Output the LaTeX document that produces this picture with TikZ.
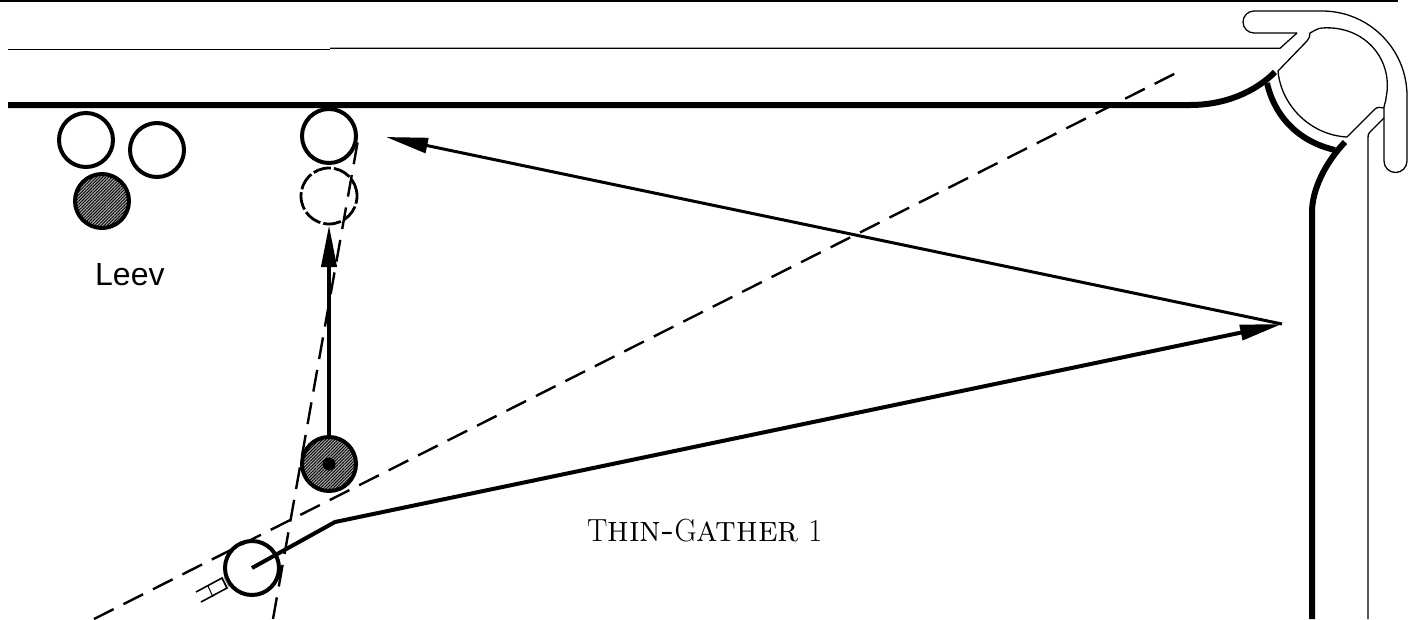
\documentclass[tikz,border=0pt]{standalone}
\usepackage{fontspec}
\usetikzlibrary{arrows.meta,patterns.meta}
\newfontfamily\labelfont{Liberation Sans}
\newcommand{\capsmall}[1]{{\fontsize{37}{37}\selectfont\scshape #1}}
\tikzset{
  x=1pt,y=1pt,
  thinln/.style={line width=1.3pt,line join=round},
  thickln/.style={line width=6pt},
  roll/.style={circle,draw,line width=4pt,minimum size=54pt,inner sep=0pt,outer sep=0pt},
  hatched/.style={fill=gray!65,postaction={pattern={Lines[angle=45,distance=2.2pt,line width=0.9pt]},pattern color=black}},
  dashln/.style={line width=2.4pt,dash pattern=on 22pt off 11pt},
  arrowln/.style={line width=4pt,-{Triangle[length=42pt,width=15pt]}},
}
\begin{document}
\begin{tikzpicture}[yscale=-1]
\useasboundingbox (0,0) rectangle (1415,619);
% rollers
\node[roll] (a) at (86,140) {};
\node[roll] (b) at (157,150) {};
\node[roll,hatched] (c) at (102,201) {};
\node[roll] (d) at (329,136) {};
\node[circle,draw,line width=2.8pt,minimum size=56pt,inner sep=0pt,outer sep=0pt,dash pattern=on 18pt off 3pt] (e) at (329,196) {};
\node[roll,hatched] (f) at (329,464) {};
\node[circle,fill,minimum size=13pt,inner sep=0pt] (fdot) at (329,464) {};
\node[roll] (g) at (252,568) {};
% named free ends
\coordinate (bend) at (335,522);
\coordinate (hit) at (1282,324);
\coordinate (tipd) at (386,137);
\coordinate (tipe) at (329,225);
\coordinate (dA1) at (94,619);
\coordinate (dA2) at (1178,72);
\coordinate (dB1) at (273,619);
\coordinate (dB2) at (358,140);
% top lines
\draw[line width=2pt] (0,0.5) -- (1398,0.5);
\draw[line width=1.5pt] (8,49.3) -- (330,49.3);
\draw[thinln] (330,48.3) -- (1280,48.3) -- (1297,33);
% thick walls
\draw[thickln] (8,105) -- (1190,105) .. controls (1225,105) and (1255,92) .. (1275,72);
\draw[thickln] (1312,619) -- (1312,212) .. controls (1312,190) and (1325,163) .. (1345,142);
\draw[thickln] (1267,83) .. controls (1275,118) and (1300,142) .. (1335,150);
% gutter outline
\draw[thinln] (1297,33) -- (1254,33) arc (90:270:11) -- (1322,11) arc (270:360:85) -- (1407,161) arc (0:180:11.5) -- (1384,107)
  .. controls (1384,104) and (1386,102) .. (1386,98);
\draw[thinln] (1386,98) .. controls (1394,60) and (1365,25) .. (1322,28) .. controls (1318,28) and (1314,31) .. (1310,33)
  .. controls (1310,36) and (1309,39) .. (1307,41) -- (1278,71)
  .. controls (1281,105) and (1310,135) .. (1347,137) -- (1375,109) .. controls (1377,107) and (1381,107) .. (1384,108);
\draw[thinln] (1384,118) -- (1370,132) .. controls (1368,134) and (1368,135) .. (1368,138) -- (1368,619);
% dashed construction lines
\draw[dashln] (dA1) -- (dA2);
\draw[dashln] (dB1) -- (dB2);
% nozzle
\coordinate (n1) at (196,592);
\coordinate (n2) at (222,578);
\coordinate (n3) at (201,602);
\coordinate (n4) at (227,588);
\draw[line width=1.6pt] (n1) -- (n2) -- (n4) -- (n3);
\draw[line width=1pt] (208,586) -- (213,597);
\draw[line width=0.8pt,gray] (224,577) -- (229,587);
% ray path
\draw[arrowln,line join=miter] (g.center) -- (bend) -- (hit);
\draw[line width=3pt,-{Triangle[length=42pt,width=15pt]}] (hit) -- (tipd);
\draw[arrowln] (f.north) -- (tipe);
% labels
\node[anchor=base west,inner sep=0pt,font=\labelfont\fontsize{32}{32}\selectfont] (leev) at (95,285) {Leev};
\node[anchor=base west,inner sep=0pt,font=\fontsize{32}{32}\selectfont] (thin) at (587,541) {\resizebox{235pt}{\height}{T\capsmall{hin-}G\capsmall{ather} 1}};
\end{tikzpicture}
\end{document}
